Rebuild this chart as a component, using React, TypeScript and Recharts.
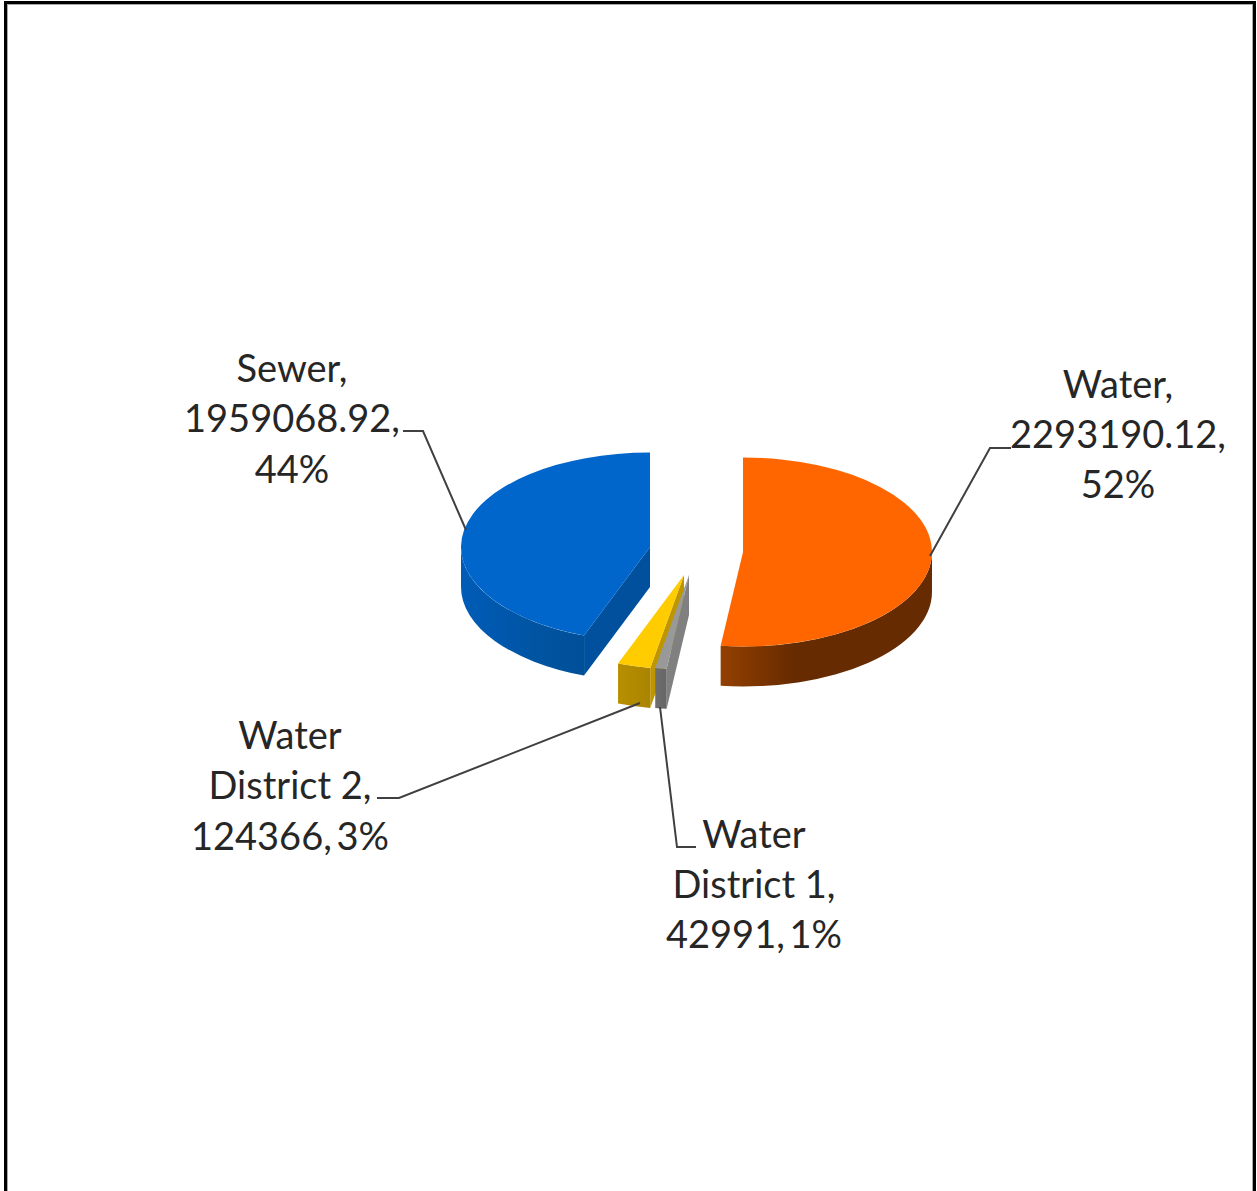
import { PieChart, Pie, Cell } from 'recharts';

// drawn counter-clockwise from 12 o'clock, so the two thin wedges paint in front of each other correctly
const categories = ['Sewer', 'Water District 2', 'Water District 1', 'Water'];
const amounts = [1959068.92, 124366, 42991, 2293190.12];

const data = categories.map((name, i) => ({ name, value: amounts[i] }));

const WIDTH = 1257;
const HEIGHT = 1191;
const FONT = 'Lato, sans-serif';
const TILT = 0.5; // vertical squash of the disc
const DEPTH = 40;

const TOP_COLORS = ['#0066cc', '#ffcc00', '#999999', '#ff6600'];
const WALL_STOPS = [
  [['0%', '#005cb8'], ['70%', '#00539f'], ['100%', '#004f99']],
  [['0%', '#b88f00'], ['100%', '#a98400']],
  [['0%', '#6e6e6e'], ['100%', '#666666']],
  [['0%', '#934000'], ['35%', '#662b00'], ['100%', '#662b00']],
];
const CUT_COLORS = ['#00509e', '#bf9600', '#808080', '#662b00'];
// how far each slice is pulled out of the pie
const EXPLODE = [
  [-40, -13],
  [-6, 15],
  [-1, 15],
  [53, -8],
];

// label blocks: centre x, first baseline, wrapped name, leader line
const LABEL_X = [292, 290, 754, 1118];
const LABEL_Y = [382, 749, 847.5, 397.5];
const LABEL_LINES = [
  ['Sewer,'],
  ['Water', 'District 2,'],
  ['Water', 'District 1,'],
  ['Water,'],
];
const LEADERS = [
  '403,431 423,431 466,530',
  '377,798 399,798 640,703',
  '696,847 677,847 660,707',
  '1011,448 990,448 930,556',
];

const rad = (deg: number) => (deg * Math.PI) / 180;

const Slice3D = (props: any) => {
  const { index, cx, cy, outerRadius, startAngle, endAngle, fill } = props;
  const rx = outerRadius;
  const ry = outerRadius * TILT;
  const ox = cx + EXPLODE[index][0];
  const oy = cy + EXPLODE[index][1];
  const lo = Math.min(startAngle, endAngle);
  const hi = Math.max(startAngle, endAngle);
  const px = (a: number) => ox + rx * Math.cos(rad(a));
  const py = (a: number) => oy - ry * Math.sin(rad(a));
  const arc = (from: number, to: number, drop = 0) => {
    const large = Math.abs(to - from) > 180 ? 1 : 0;
    const sweep = to < from ? 1 : 0;
    return `A${rx},${ry} 0 ${large} ${sweep} ${px(to)},${py(to) + drop}`;
  };

  // the rim only shows along the front half of the disc
  const wallFrom = Math.max(lo, 180);
  const wallTo = Math.min(hi, 360);
  const wall =
    wallTo > wallFrom
      ? `M${px(wallFrom)},${py(wallFrom)} ${arc(wallFrom, wallTo)} L${px(wallTo)},${py(wallTo) + DEPTH} ${arc(wallTo, wallFrom, DEPTH)} Z`
      : null;

  const cutFace = (a: number) =>
    `M${ox},${oy} L${px(a)},${py(a)} L${px(a)},${py(a) + DEPTH} L${ox},${oy + DEPTH} Z`;
  const gradId = `wall-${index}`;

  return (
    <g>
      <defs>
        <linearGradient id={gradId} x1="0" y1="0" x2="1" y2="0">
          {WALL_STOPS[index].map(([offset, color]) => (
            <stop key={offset} offset={offset} stopColor={color} />
          ))}
        </linearGradient>
      </defs>
      {Math.cos(rad(lo)) > 0.001 && <path d={cutFace(lo)} fill={CUT_COLORS[index]} />}
      {Math.cos(rad(hi)) < -0.001 && <path d={cutFace(hi)} fill={CUT_COLORS[index]} />}
      {wall && <path d={wall} fill={`url(#${gradId})`} />}
      <path d={`M${ox},${oy} L${px(lo)},${py(lo)} ${arc(lo, hi)} Z`} fill={fill} />
    </g>
  );
};

const SliceLabel = (props: any) => {
  const { index, value, percent } = props;
  const pct = `${Math.round(percent * 100)}%`;
  // the two small districts keep value and percent on one line
  const lines =
    LABEL_LINES[index].length === 2
      ? [...LABEL_LINES[index], `${value}, ${pct}`]
      : [...LABEL_LINES[index], `${value},`, pct];
  return (
    <g>
      <polyline points={LEADERS[index]} fill="none" stroke="#404040" strokeWidth={2} />
      <text
        x={LABEL_X[index]}
        y={LABEL_Y[index]}
        textAnchor="middle"
        fontFamily={FONT}
        fontSize={38}
        fill="#262626"
      >
        {lines.map((line, i) => (
          <tspan
            key={i}
            x={LABEL_X[index]}
            y={LABEL_Y[index] + i * 50.4}
            style={{ wordSpacing: line.includes('%') ? -5 : 0 }}
          >
            {line}
          </tspan>
        ))}
      </text>
    </g>
  );
};

export default function App() {
  return (
    <div
      style={{
        position: 'absolute',
        left: 0,
        top: 0,
        width: WIDTH,
        height: HEIGHT,
        overflow: 'hidden',
        background: '#fff',
      }}
    >
      <div
        style={{
          position: 'absolute',
          left: 4,
          top: 1,
          width: 1246,
          height: HEIGHT,
          borderTop: '3px solid #000',
          borderLeft: '3px solid #000',
          borderRight: '3px solid #000',
          boxShadow: 'inset 0 0 0 1px #a8a8a8',
        }}
      />
      <PieChart width={WIDTH} height={HEIGHT} margin={{ top: 0, right: 0, bottom: 0, left: 0 }}>
        <Pie
          data={data}
          dataKey="value"
          nameKey="name"
          cx={690}
          cy={560}
          innerRadius={0}
          outerRadius={189}
          startAngle={90}
          endAngle={450}
          stroke="none"
          shape={Slice3D}
          label={SliceLabel}
          labelLine={false}
          isAnimationActive={false}
        >
          {data.map((d, i) => (
            <Cell key={d.name} fill={TOP_COLORS[i]} />
          ))}
        </Pie>
      </PieChart>
    </div>
  );
}
